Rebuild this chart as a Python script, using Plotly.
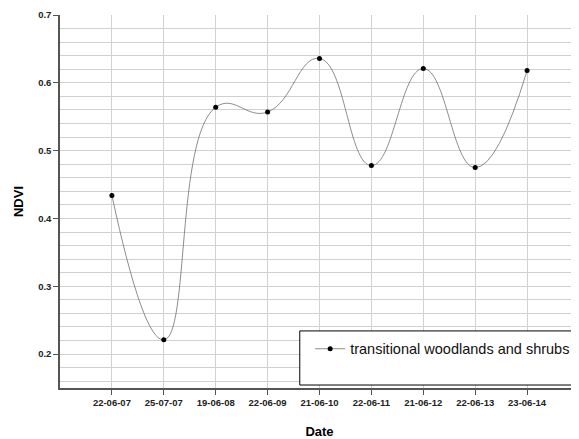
import plotly.graph_objects as go

dates = ["22-06-07", "25-07-07", "19-06-08", "22-06-09", "21-06-10",
         "22-06-11", "21-06-12", "22-06-13", "23-06-14"]
ndvi = [0.434, 0.221, 0.564, 0.557, 0.636, 0.478, 0.621, 0.475, 0.618]
series_name = "transitional woodlands and shrubs"
y_ticks = [0.2, 0.3, 0.4, 0.5, 0.6, 0.7]

fig = go.Figure()
fig.add_trace(go.Scatter(
    x=dates, y=ndvi, mode="lines+markers", name=series_name,
    line=dict(shape="spline", smoothing=1.3, color="#707070", width=0.8),
    marker=dict(color="black", size=5),
))

fig.add_shape(type="rect", xref="paper", yref="paper",
              x0=0.462, x1=1.02, y0=0.008, y1=0.153,
              line=dict(color="black", width=1), fillcolor="white", layer="above")

tickfont = dict(size=9.5, family="Liberation Sans, Arial", weight="bold", color="#222")

# page body has an 8px default margin; compensate so the plot lands where the reference has it
fig.update_layout(
    width=571, height=431,
    margin=dict(l=52, r=0, t=7, b=51),
    plot_bgcolor="white", paper_bgcolor="white",
    font=dict(family="Liberation Sans, Arial, sans-serif", color="black"),
    showlegend=True,
    legend=dict(x=0.482, y=0.148, xanchor="left", yanchor="top",
                bgcolor="rgba(0,0,0,0)", borderwidth=0,
                font=dict(size=14.5, color="#111")),
    xaxis=dict(
        type="category", categoryorder="array", categoryarray=dates,
        range=[-1, 9], showgrid=True, gridcolor="#d0d0d0", gridwidth=1,
        showline=True, linecolor="#555", linewidth=1.5,
        ticks="outside", ticklen=5, tickcolor="#555",
        tickfont=tickfont, automargin=False,
        title=dict(text="<b>Date</b>", font=dict(size=13), standoff=22),
        zeroline=False,
    ),
    yaxis=dict(
        range=[0.15, 0.7], tickvals=y_ticks, ticktext=[str(v) for v in y_ticks],
        showgrid=True, gridcolor="#d0d0d0", gridwidth=1,
        minor=dict(dtick=0.02, tick0=0.0, showgrid=True, gridcolor="#d0d0d0", gridwidth=1),
        showline=True, linecolor="#555", linewidth=1.5,
        ticks="outside", ticklen=5, tickcolor="#555",
        tickfont=tickfont, automargin=False,
        title=dict(text="<b>NDVI</b>", font=dict(size=13), standoff=12),
        zeroline=False,
    ),
)

fig.write_html("out.html")
